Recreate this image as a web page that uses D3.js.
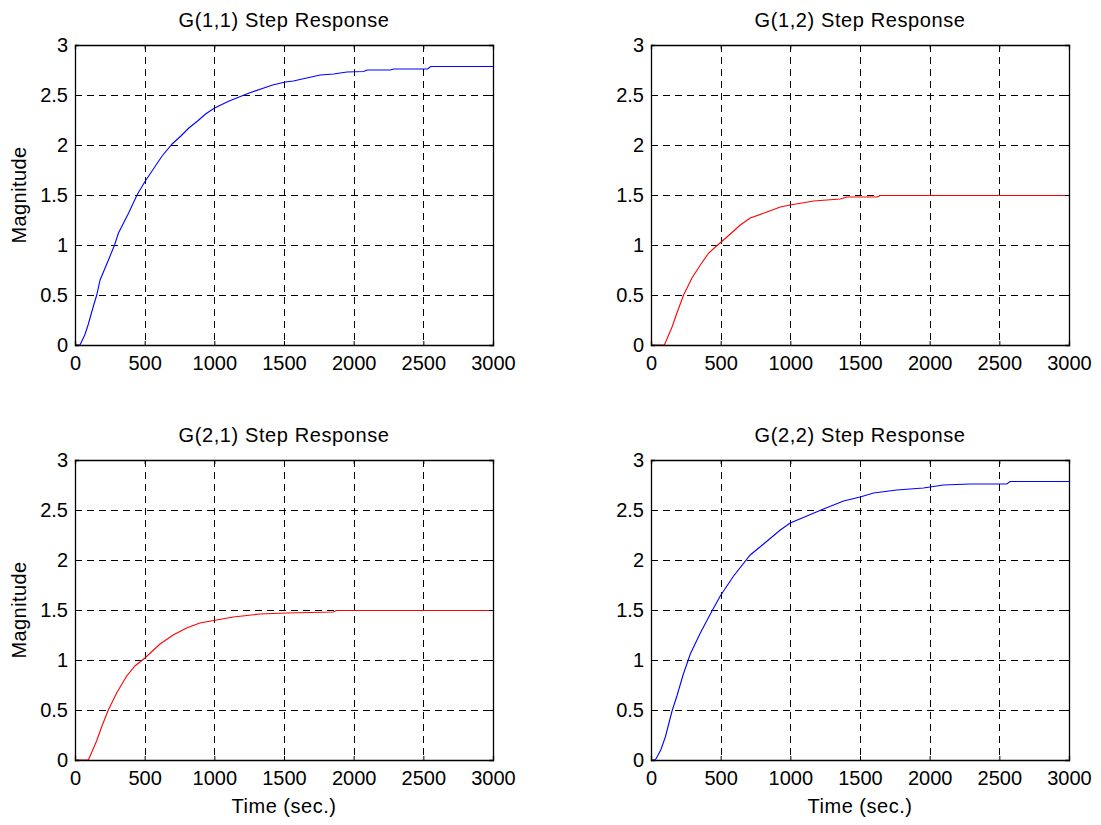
<!DOCTYPE html>
<html>
<head>
<meta charset="utf-8">
<script src="https://cdn.jsdelivr.net/npm/d3@7"></script>
<style>
  body { margin: 0; background: #fff; }
  svg text { font-family: "Liberation Sans", Arial, sans-serif; fill: #000; }
</style>
</head>
<body>
<div id="chart"></div>
<script>
// step response samples: [time (s), magnitude]
const g11 = [[0,0],[36,0],[70,0.1],[96,0.21],[130,0.38],[156,0.5],[180,0.65],[240,0.85],[284,1.0],[312,1.12],[385,1.32],[445,1.5],
  [500,1.63],[553,1.74],[625,1.89],[697,2.01],[760,2.09],[817,2.17],[880,2.24],[937,2.31],[1002,2.37],[1106,2.44],[1250,2.52],[1418,2.6],
  [1510,2.63],[1567,2.64],[1663,2.67],[1760,2.7],[1856,2.71],[1952,2.73],[2072,2.735],[2096,2.75],[2264,2.75],
  [2288,2.76],[2530,2.76],[2553,2.785],[3000,2.785]];
const g12 = [[0,0],[96,0],[151,0.18],[186,0.32],[234,0.5],[294,0.67],[354,0.8],[414,0.92],[470,0.99],[545,1.08],
  [641,1.2],[712,1.27],[832,1.33],[928,1.38],[999,1.4],[1167,1.44],[1358,1.46],[1406,1.48],[1621,1.48],
  [1645,1.495],[3000,1.495]];
const g21 = [[0,0],[96,0],[155,0.19],[191,0.33],[239,0.5],[299,0.67],[371,0.84],[430,0.94],[502,1.02],[610,1.16],
  [705,1.25],[801,1.32],[896,1.37],[1016,1.4],[1136,1.43],[1327,1.46],[1518,1.47],[1853,1.48],[1877,1.495],
  [3000,1.495]];
const g22 = [[0,0],[31,0],[70,0.1],[103,0.23],[151,0.49],[186,0.64],[230,0.85],[282,1.06],[354,1.27],[426,1.46],[497,1.64],[593,1.84],
  [712,2.05],[808,2.16],[928,2.3],[999,2.37],[1119,2.44],[1238,2.51],[1382,2.59],[1501,2.63],[1597,2.67],
  [1764,2.7],[1955,2.72],[2099,2.75],[2290,2.76],[2553,2.76],[2577,2.785],[3000,2.785]];

const xTicks = [0, 500, 1000, 1500, 2000, 2500, 3000];
const yTicks = [0, 0.5, 1, 1.5, 2, 2.5, 3];

const panels = [
  {title: "G(1,1) Step Response", data: g11, color: "#0000ff", col: 0, row: 0},
  {title: "G(1,2) Step Response", data: g12, color: "#ff0000", col: 1, row: 0},
  {title: "G(2,1) Step Response", data: g21, color: "#ff0000", col: 0, row: 1},
  {title: "G(2,2) Step Response", data: g22, color: "#0000ff", col: 1, row: 1}
];

const W = 1101, H = 825;
const lefts = [75, 651], tops = [45, 460];
const pw = 418, ph = 300;
const fs = 20;

const svg = d3.select("#chart").append("svg")
  .attr("width", W).attr("height", H);

panels.forEach(p => {
  const x = d3.scaleLinear().domain([0, 3000]).range([0, pw]);
  const y = d3.scaleLinear().domain([0, 3]).range([ph, 0]);
  const g = svg.append("g").attr("transform", `translate(${lefts[p.col]},${tops[p.row]})`);

  // grid
  g.append("g").selectAll("line").data(xTicks.slice(1, -1)).join("line")
    .attr("x1", d => Math.round(x(d)) + 0.5).attr("x2", d => Math.round(x(d)) + 0.5)
    .attr("y1", 0).attr("y2", ph)
    .attr("stroke", "#000").attr("stroke-dasharray", "7,5");
  g.append("g").selectAll("line").data(yTicks.slice(1, -1)).join("line")
    .attr("y1", d => Math.round(y(d)) + 0.5).attr("y2", d => Math.round(y(d)) + 0.5)
    .attr("x1", 0).attr("x2", pw)
    .attr("stroke", "#000").attr("stroke-dasharray", "7,5");

  // curve
  g.append("path").datum(p.data)
    .attr("fill", "none").attr("stroke", p.color).attr("stroke-width", 1.1)
    .attr("d", d3.line().x(d => x(d[0])).y(d => y(d[1])));

  // axes (MATLAB style: ticks inside)
  const xa = g.append("g").attr("transform", `translate(0,${ph})`)
    .call(d3.axisBottom(x).tickValues(xTicks).tickSize(-4).tickPadding(11).tickFormat(d3.format("d")));
  const xt = g.append("g")
    .call(d3.axisTop(x).tickValues(xTicks).tickSize(-4).tickFormat(""));
  const ya = g.append("g")
    .call(d3.axisLeft(y).tickValues(yTicks).tickSize(-4).tickPadding(7).tickFormat(d => d));
  const yr = g.append("g").attr("transform", `translate(${pw},0)`)
    .call(d3.axisRight(y).tickValues(yTicks).tickSize(-4).tickFormat(""));
  [xa, xt, ya, yr].forEach(a => {
    a.selectAll("path").attr("stroke", "#000").attr("stroke-width", 1.3);
    a.selectAll("line").attr("stroke", "#000");
    a.selectAll("text").style("font-size", fs + "px").attr("fill", "#000");
  });

  // title
  g.append("text").attr("x", pw / 2).attr("y", -18)
    .attr("text-anchor", "middle").style("font-size", fs + "px")
    .style("letter-spacing", "0.6px").text(p.title);

  if (p.col === 0) {
    g.append("text")
      .attr("transform", `translate(-49,${ph / 2}) rotate(-90)`)
      .attr("text-anchor", "middle").style("font-size", fs + "px")
      .style("letter-spacing", "0.4px").text("Magnitude");
  }
  if (p.row === 1) {
    g.append("text").attr("x", pw / 2).attr("y", ph + 53)
      .attr("text-anchor", "middle").style("font-size", fs + "px")
      .style("letter-spacing", "0.5px").text("Time (sec.)");
  }
});
</script>
</body>
</html>
